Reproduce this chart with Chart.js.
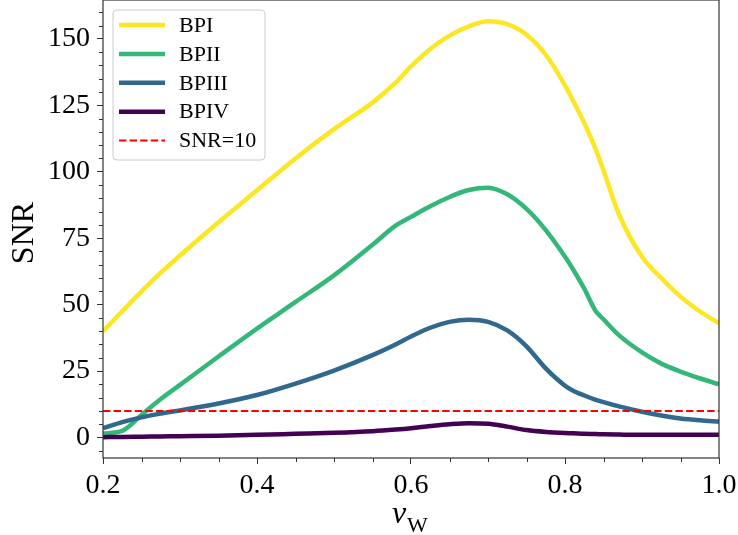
<!DOCTYPE html>
<html lang="en">
<head>
    <meta charset="UTF-8">
    <title>SNR vs v_W</title>
    <script src="https://cdn.jsdelivr.net/npm/chart.js"></script>
    <style>
        body {
            margin: 0;
            background-color: #ffffff;
        }
        #snrChart {
            display: block;
        }
    </style>
</head>
<body>
    <canvas id="snrChart" width="738" height="535"></canvas>

    <script>
        // wall velocity grid (x) and SNR values
        const vw = [0.2, 0.225, 0.25, 0.275, 0.3, 0.35, 0.4, 0.45, 0.5, 0.55, 0.58, 0.6, 0.625, 0.65, 0.675,
                    0.7, 0.725, 0.75, 0.775, 0.8, 0.81, 0.825, 0.84, 0.85, 0.87, 0.9, 0.925, 0.95, 0.975, 1.0];

        const bp1 = [40, 47.5, 55, 62, 68.5, 81, 93, 105, 116, 126, 133.5, 139.6, 146.2, 151.2, 154.7,
                     156.6, 155.5, 151.5, 144, 132.5, 127, 118.3, 108.3, 100.5, 84, 68, 60, 53, 47.5, 43];
        const bp2 = [1.5, 2.5, 8.5, 14.5, 19.8, 30.5, 41, 51, 61, 72.5, 79.7, 83, 87, 90.5, 93.1,
                     94, 91.5, 86, 78, 68, 63.5, 56, 47.5, 44.5, 38.5, 32, 27.8, 24.8, 22.3, 20];
        const bp3 = [3.5, 5.8, 7.6, 9, 10.2, 12.8, 16, 20.3, 25.2, 31, 35, 38, 41.3, 43.5, 44.3,
                     43.5, 40.3, 34.3, 26, 19.5, 17.7, 15.8, 14.2, 13.3, 11.7, 9.7, 8.3, 7.2, 6.5, 6.0];
        const bp4 = [0.15, 0.2, 0.3, 0.4, 0.5, 0.7, 1.0, 1.4, 1.8, 2.4, 3.0, 3.5, 4.3, 5.0, 5.4,
                     5.2, 4.1, 2.8, 2.1, 1.7, 1.6, 1.4, 1.3, 1.2, 1.1, 1.0, 1.0, 1.0, 1.0, 1.0];

        const seriesLabels = ['BPI', 'BPII', 'BPIII', 'BPIV'];
        const seriesColors = ['#fde725', '#35b779', '#31688e', '#440154'];
        const threshold = 10;

        const xTicks = [0.2, 0.4, 0.6, 0.8, 1.0];
        const yTicks = [0, 25, 50, 75, 100, 125, 150];

        function toPoints(ys) {
            return vw.map((x, i) => ({ x: x, y: ys[i] }));
        }

        Chart.defaults.font.family = '"Liberation Serif", "DejaVu Serif", serif';
        Chart.defaults.color = '#000';

        const axisColor = '#333';

        // minor ticks, frame, legend and axis titles
        const decorations = {
            id: 'decorations',
            afterDatasetsDraw(chart) {
                const ctx = chart.ctx;
                const area = chart.chartArea;
                const xs = chart.scales.x;
                const ys = chart.scales.y;

                ctx.save();
                ctx.strokeStyle = axisColor;
                ctx.lineWidth = 1;

                // minor ticks
                ctx.beginPath();
                for (let v = -5; v <= 160; v += 5) {
                    if (v % 25 === 0) continue;
                    const py = Math.round(ys.getPixelForValue(v)) + 0.5;
                    ctx.moveTo(area.left, py);
                    ctx.lineTo(area.left - 4, py);
                }
                for (let k = 5; k < 20; k++) {
                    if (k % 4 === 0) continue;
                    const px = Math.round(xs.getPixelForValue(k * 0.05)) + 0.5;
                    ctx.moveTo(px, area.bottom);
                    ctx.lineTo(px, area.bottom + 4);
                }
                ctx.stroke();

                // frame
                ctx.lineWidth = 1.2;
                ctx.strokeRect(area.left, area.top, area.right - area.left, area.bottom - area.top);

                // legend
                const lx = 113, ly = 10, lw = 152, lh = 150;
                ctx.beginPath();
                ctx.roundRect(lx, ly, lw, lh, 4);
                ctx.fillStyle = 'rgba(255,255,255,0.8)';
                ctx.fill();
                ctx.strokeStyle = '#cccccc';
                ctx.lineWidth = 1;
                ctx.stroke();

                ctx.font = '22px "Liberation Serif", serif';
                ctx.textBaseline = 'middle';
                ctx.textAlign = 'left';
                chart.data.datasets.forEach((ds, row) => {
                    const cy = 25 + row * 28.9;
                    ctx.beginPath();
                    ctx.strokeStyle = ds.borderColor;
                    ctx.lineWidth = ds.borderWidth;
                    ctx.setLineDash(ds.borderDash || []);
                    ctx.moveTo(119, cy);
                    ctx.lineTo(165, cy);
                    ctx.stroke();
                    ctx.setLineDash([]);
                    ctx.fillStyle = '#000';
                    ctx.fillText(ds.label, 179, cy + 1);
                });

                // axis titles
                ctx.fillStyle = '#000';
                ctx.save();
                ctx.translate(25, 233);
                ctx.rotate(-Math.PI / 2);
                ctx.textAlign = 'center';
                ctx.textBaseline = 'middle';
                ctx.font = '32px "Liberation Serif", serif';
                ctx.fillText('SNR', 0, 0);
                ctx.restore();

                ctx.textBaseline = 'alphabetic';
                ctx.textAlign = 'left';
                ctx.font = 'italic 32px "Liberation Serif", serif';
                ctx.fillText('v', 392, 523);
                ctx.font = '22px "Liberation Serif", serif';
                ctx.fillText('W', 407, 532);

                ctx.restore();
            }
        };

        const snrChart = new Chart(document.getElementById('snrChart'), {
            type: 'line',
            data: {
                datasets: [
                    ...[bp1, bp2, bp3, bp4].map((ys, i) => ({
                        label: seriesLabels[i],
                        data: toPoints(ys),
                        borderColor: seriesColors[i],
                        borderWidth: 4.5,
                        pointRadius: 0,
                        fill: false,
                        cubicInterpolationMode: 'monotone',
                        order: 5 - i
                    })),
                    {
                        label: 'SNR=' + threshold,
                        data: [{ x: vw[0], y: threshold }, { x: vw[vw.length - 1], y: threshold }],
                        borderColor: '#ff0000',
                        borderWidth: 2,
                        borderDash: [7.4, 3.2],
                        pointRadius: 0,
                        fill: false,
                        order: 0
                    }
                ]
            },
            options: {
                responsive: false,
                animation: false,
                devicePixelRatio: 1,
                layout: {
                    padding: { top: -1, right: 19, left: 0, bottom: 0 }
                },
                scales: {
                    x: {
                        type: 'linear',
                        min: 0.2,
                        max: 1.0,
                        afterBuildTicks(scale) {
                            scale.ticks = xTicks.map(v => ({ value: v }));
                        },
                        afterFit(scale) {
                            scale.height = 77;
                            scale.paddingLeft = 0;
                            scale.paddingRight = 0;
                        },
                        ticks: {
                            font: { size: 28 },
                            padding: 5,
                            maxRotation: 0,
                            callback: v => v.toFixed(1)
                        },
                        grid: {
                            drawOnChartArea: false,
                            tickLength: 6,
                            tickColor: axisColor,
                            tickWidth: 1
                        },
                        border: { display: false }
                    },
                    y: {
                        type: 'linear',
                        min: -7.7,
                        max: 164.6,
                        afterBuildTicks(scale) {
                            scale.ticks = yTicks.map(v => ({ value: v }));
                        },
                        afterFit(scale) {
                            scale.width = 103;
                            scale.paddingTop = 0;
                            scale.paddingBottom = 0;
                        },
                        ticks: {
                            font: { size: 28 },
                            padding: 7,
                            callback: v => String(v)
                        },
                        grid: {
                            drawOnChartArea: false,
                            tickLength: 6,
                            tickColor: axisColor,
                            tickWidth: 1
                        },
                        border: { display: false }
                    }
                },
                plugins: {
                    legend: { display: false },
                    tooltip: { enabled: false }
                }
            },
            plugins: [decorations]
        });
    </script>
</body>
</html>
